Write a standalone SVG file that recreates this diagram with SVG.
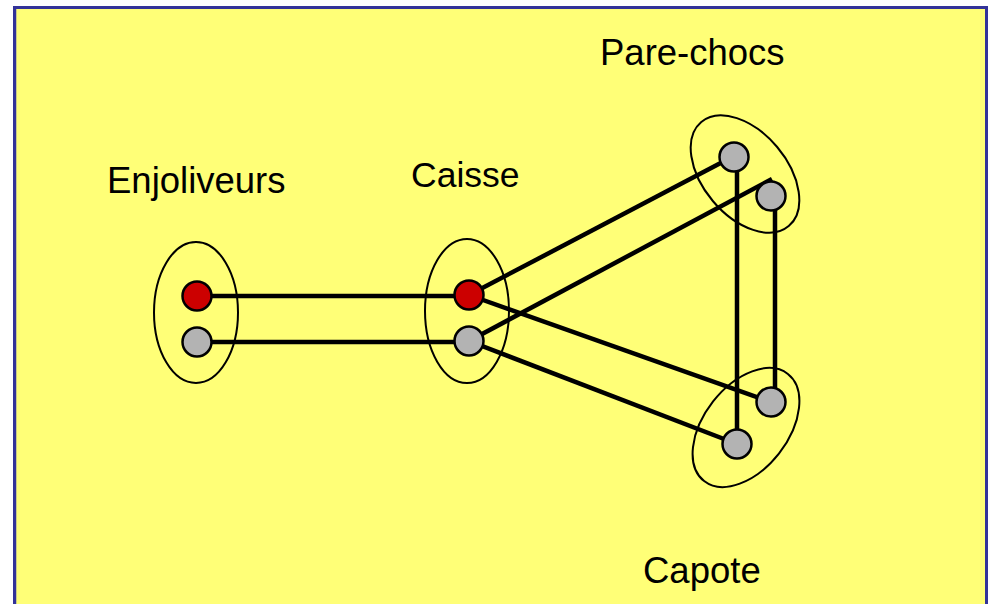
<svg xmlns="http://www.w3.org/2000/svg" width="990" height="604" viewBox="0 0 990 604">
  <style>
    .label { font-family: "Liberation Sans", Arial, sans-serif; font-size: 36.5px; fill: #000; }
    .set { fill: none; stroke: #000; stroke-width: 2; }
    .link { stroke: #000; stroke-width: 4.5; stroke-linecap: butt; fill: none; }
    .dot-red { fill: #CC0000; stroke: #000; stroke-width: 2.5; }
    .dot-grey { fill: #B3B3B3; stroke: #000; stroke-width: 2.5; }
  </style>

  <!-- background panel -->
  <rect x="0" y="0" width="990" height="604" fill="#FFFFFF"/>
  <rect x="14.5" y="7.5" width="972" height="620" fill="#FFFF77" stroke="#333399" stroke-width="3"/>
  <line x1="16.5" y1="9" x2="16.5" y2="604" stroke="#C9C98A" stroke-width="1"/>

  <!-- connectors -->
  <g id="connectors">
    <line class="link" x1="197" y1="296" x2="469" y2="296"/>
    <line class="link" x1="197" y1="342" x2="469" y2="342"/>
    <line class="link" x1="469" y1="295" x2="734" y2="156"/>
    <line class="link" x1="469" y1="341" x2="772" y2="179"/>
    <line class="link" x1="469" y1="295" x2="771" y2="402"/>
    <line class="link" x1="469" y1="341" x2="737" y2="444"/>
    <line class="link" x1="737" y1="157" x2="737" y2="444"/>
    <line class="link" x1="775" y1="196" x2="775" y2="402"/>
  </g>

  <!-- Enjoliveurs -->
  <g id="enjoliveurs">
    <ellipse class="set" cx="196" cy="312.5" rx="42" ry="70.5"/>
    <circle class="dot-red" cx="197" cy="296" r="14.5"/>
    <circle class="dot-grey" cx="197" cy="342" r="14.5"/>
    <text class="label" x="107" y="193">Enjoliveurs</text>
  </g>

  <!-- Caisse -->
  <g id="caisse">
    <ellipse class="set" cx="467" cy="311" rx="42" ry="72"/>
    <circle class="dot-red" cx="469" cy="295" r="14.5"/>
    <circle class="dot-grey" cx="469" cy="341" r="14.5"/>
    <text class="label" x="411" y="187" style="font-size:35.5px">Caisse</text>
  </g>

  <!-- Pare-chocs -->
  <g id="pare-chocs">
    <ellipse class="set" cx="745" cy="174" rx="68" ry="42" transform="rotate(50 745 174)"/>
    <circle class="dot-grey" cx="734" cy="157" r="14.5"/>
    <circle class="dot-grey" cx="771" cy="196" r="14.5"/>
    <text class="label" x="600" y="65">Pare-chocs</text>
  </g>

  <!-- Capote -->
  <g id="capote">
    <ellipse class="set" cx="746" cy="427.5" rx="68" ry="42" transform="rotate(-52 746 427.5)"/>
    <circle class="dot-grey" cx="771" cy="402" r="14.5"/>
    <circle class="dot-grey" cx="737" cy="444" r="14.5"/>
    <text class="label" x="643" y="583">Capote</text>
  </g>
</svg>
